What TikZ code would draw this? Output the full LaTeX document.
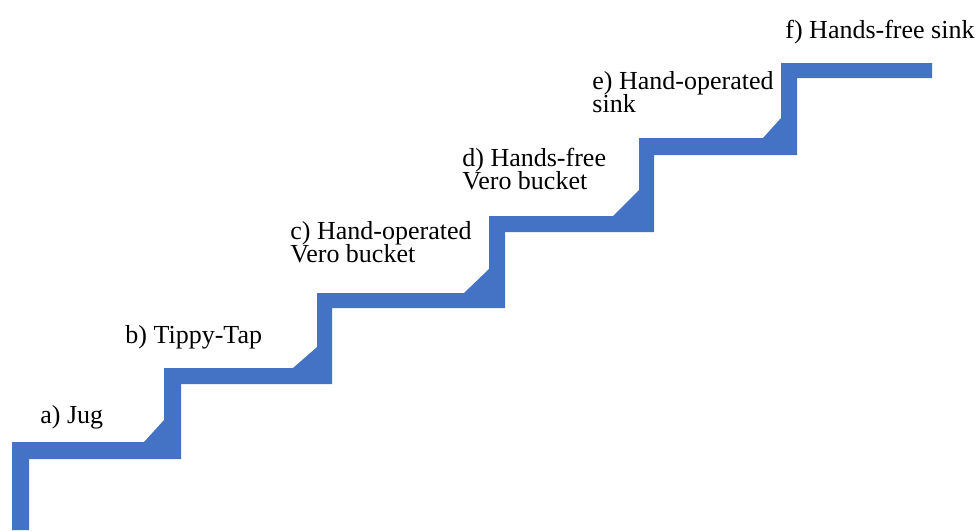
\documentclass[tikz,border=0pt]{standalone}
\usepackage{fontspec}
\setmainfont{Liberation Serif}
\newfontfamily\lserif{Liberation Serif}
\definecolor{stairblue}{HTML}{4472C4}
\begin{document}
\begin{tikzpicture}[x=0.5pt,y=-0.5pt,
  stair/.style={fill=stairblue,draw=none},
  lbl/.style={anchor=base west,inner sep=0pt,align=left,
    font=\lserif\fontsize{13pt}{11.5pt}\selectfont}]
\useasboundingbox (0,0) rectangle (978,530);
% staircase as one filled outline
\fill[stair] (12,530) -- (12,442) -- (144,442) -- (164,420) -- (164,368)
  -- (293,368) -- (317,347) -- (317,293)
  -- (464,293) -- (489,269) -- (489,216)
  -- (613,216) -- (639,190) -- (639,138)
  -- (763,138) -- (781,118) -- (781,63)
  -- (932,63) -- (932,78) -- (797,78) -- (797,155)
  -- (654,155) -- (654,232) -- (505,232) -- (505,308)
  -- (332,308) -- (332,384) -- (181,384) -- (181,459)
  -- (29,459) -- (29,530) -- cycle;
% labels (base anchor = baseline of the last line)
\node[lbl] (a) at (40,423) {a) Jug};
\node[lbl] (b) at (125,343) {b) Tippy-Tap};
\node[lbl] (c) at (290,262) {c) Hand-operated\\[-1.5pt]Vero bucket};
\node[lbl] (d) at (462,189) {d) Hands-free\\[-1.5pt]Vero bucket};
\node[lbl] (e) at (592,112) {e) Hand-operated\\[-1.5pt]sink};
\node[lbl] (f) at (785,39) {f) Hands-free sink};
\end{tikzpicture}
\end{document}
